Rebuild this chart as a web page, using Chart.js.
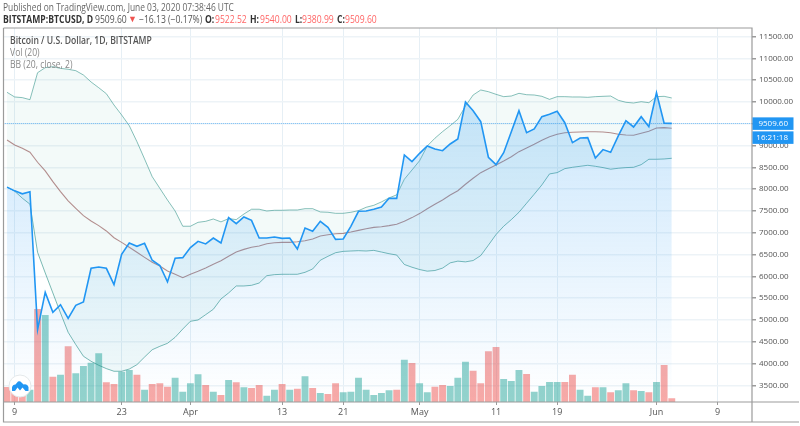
<!DOCTYPE html>
<html>
<head>
<meta charset="utf-8">
<script src="https://cdn.jsdelivr.net/npm/chart.js@4"></script>
<style>
html,body{margin:0;padding:0;background:#fff;width:800px;height:426px;overflow:hidden}
#wrap{position:relative;width:800px;height:426px}
canvas{position:absolute;left:0;top:0}
.t{position:absolute;white-space:nowrap;font-family:"Open Sans",sans-serif;font-size:10px;line-height:12px;color:#555;transform-origin:left center}
.b{font-weight:700;color:#333}
.r{color:#f66}
#logo{position:absolute;left:8px;top:374px}
</style>
</head>
<body>
<div id="wrap">
<canvas id="c" width="800" height="426"></canvas>
<div class="t" style="left:3px;top:1px;color:#666;transform:scaleX(.84)">Published on TradingView.com, June 03, 2020 07:38:46 UTC</div>
<div class="t b" style="left:3px;top:13px;transform:scaleX(.86)">BITSTAMP:BTCUSD, D</div>
<div class="t" style="left:95px;top:13px;transform:scaleX(.86)">9509.60</div>
<div class="t" style="left:128px;top:13px;color:#ef5350;font-size:9px">▼</div>
<div class="t" style="left:139px;top:13px;transform:scaleX(.86)">−16.13 (−0.17%)</div>
<div class="t b" style="left:205px;top:13px;transform:scaleX(.86)">O:</div>
<div class="t r" style="left:215px;top:13px;transform:scaleX(.86)">9522.52</div>
<div class="t b" style="left:250px;top:13px;transform:scaleX(.86)">H:</div>
<div class="t r" style="left:260px;top:13px;transform:scaleX(.86)">9540.00</div>
<div class="t b" style="left:295px;top:13px;transform:scaleX(.86)">L:</div>
<div class="t r" style="left:302px;top:13px;transform:scaleX(.86)">9380.99</div>
<div class="t b" style="left:337px;top:13px;transform:scaleX(.86)">C:</div>
<div class="t r" style="left:345px;top:13px;transform:scaleX(.86)">9509.60</div>
<div class="t" style="left:9.5px;top:34px;color:#555;font-weight:600;transform:scaleX(.86)">Bitcoin / U.S. Dollar, 1D, BITSTAMP</div>
<div class="t" style="left:9.5px;top:46px;color:#888;transform:scaleX(.86)">Vol (20)</div>
<div class="t" style="left:9.5px;top:58px;color:#888;transform:scaleX(.86)">BB (20, close, 2)</div>
<svg id="logo" width="24" height="24" viewBox="0 0 24 24">
<circle cx="12" cy="12" r="11" fill="#fff" stroke="#e4e8ea" stroke-width="1"/>
<path d="M4 17 L4 13.5 Q4.5 10.5 7.5 10.5 L10 7.5 Q12 6.5 13.5 8.5 L15.5 10.5 Q19.5 9.5 20.5 13 L20.5 17 L17.5 17 L14.5 13.5 L12 16.5 L9.5 13.5 L7 17 Z" fill="#2196f3"/>
</svg>
</div>
<script>
const closePrice=[8047,7962,7893,7939,4779,5634,5176,5350,5038,5336,5412,6185,6215,6185,5810,6506,6765,6690,6758,6370,6250,5873,6415,6430,6660,6805,6745,6880,6765,7348,7210,7362,7286,6880,6880,6903,6873,6880,6628,7110,7034,7263,7125,6850,6857,7149,7493,7500,7540,7590,7790,7790,8785,8632,8823,8991,8922,8883,9037,9151,10000,9800,9548,8732,8563,8837,9319,9800,9296,9381,9663,9718,9787,9525,9067,9175,9182,8716,8908,8847,9221,9572,9427,9663,9434,10213,9511,9509.6];
const bbUpper=[10222,10115,10100,10053,10672,10787,10810,10771,10750,10718,10619,10459,10328,10190,9931,9702,9457,9091,8693,8288,8020,7752,7500,7150,7150,7240,7263,7316,7250,7325,7302,7430,7540,7540,7500,7516,7516,7523,7523,7553,7553,7478,7471,7447,7447,7470,7508,7585,7630,7708,7800,7870,8228,8440,8654,8991,9168,9320,9457,9603,9908,10160,10275,10236,10176,10122,10137,10199,10167,10160,10130,10060,10122,10122,10115,10115,10107,10122,10130,10137,10039,9993,9977,10007,9984,10122,10130,10092];
const bbBasis=[9129,9015,8938,8847,8618,8418,8173,7945,7733,7562,7393,7270,7164,7042,6887,6780,6667,6552,6437,6323,6238,6124,6048,5970,6048,6116,6192,6276,6360,6460,6559,6620,6667,6697,6750,6773,6780,6780,6795,6818,6857,6925,6955,6978,6987,7017,7055,7093,7125,7140,7164,7195,7262,7348,7440,7553,7655,7752,7867,7966,8113,8250,8379,8471,8556,8647,8746,8861,8945,9030,9122,9205,9260,9296,9305,9312,9319,9319,9312,9296,9260,9244,9236,9282,9328,9404,9411,9396];
const bbLower=[8047,7954,7794,7656,6552,6080,5620,5160,4717,4435,4168,4053,3961,3885,3824,3824,3875,3975,4150,4318,4396,4465,4602,4792,4970,5000,5122,5245,5482,5620,5780,5780,5795,5848,6016,6040,6048,6048,6048,6093,6170,6370,6460,6543,6574,6582,6590,6582,6597,6559,6520,6490,6273,6210,6157,6120,6135,6190,6310,6350,6333,6363,6478,6716,6960,7150,7302,7470,7678,7885,8098,8350,8380,8471,8502,8525,8548,8525,8495,8458,8480,8495,8502,8563,8686,8686,8693,8709];
const volume=[150,120,100,123,930,870,253,273,557,287,360,393,487,197,180,303,320,273,123,180,187,153,243,103,187,277,170,103,70,220,197,147,140,170,63,123,180,123,133,257,140,90,80,187,97,103,243,123,70,90,117,123,423,390,187,97,153,170,160,243,403,313,187,507,550,230,210,320,280,103,160,200,200,200,273,123,63,147,147,97,117,187,117,110,97,200,370,37];
const volumeFalling=[1,1,1,0,1,0,1,0,1,0,0,0,0,1,1,0,0,1,0,1,1,1,0,0,0,0,1,0,1,0,1,0,1,1,0,0,1,0,1,0,1,0,1,1,0,0,0,0,0,0,0,1,0,1,0,0,1,1,0,0,0,1,1,1,1,0,0,0,1,0,0,0,0,1,1,0,0,1,0,1,0,0,1,0,1,0,1,1];
const monthNames=["Mar","Apr","May","Jun"];
const monthDays=[[8,31],[1,30],[1,31],[1,13]];
const categories=[];
monthDays.forEach((r,m)=>{for(let d=r[0];d<=r[1];d++)categories.push(monthNames[m]+" "+d);});
const tickDays=["Mar 9","Mar 23","Apr 1","Apr 13","Apr 21","May 1","May 11","May 19","Jun 1","Jun 9"];
const tickText=["9","23","Apr","13","21","May","11","19","Jun","9"];
const priceTicks=[3500,4000,4500,5000,5500,6000,6500,7000,7500,8000,8500,9000,9500,10000,10500,11000,11500];
const lastPrice=9509.6;
const lastPriceText="9509.60";
const countdownText="16:21:18";

const areaFill=(ctx)=>{
  const a=ctx.chart.chartArea; if(!a) return 'rgba(33,150,243,.1)';
  const g=ctx.chart.ctx.createLinearGradient(0,92,0,a.bottom);
  g.addColorStop(0,'rgba(33,150,243,.24)');
  g.addColorStop(1,'rgba(33,150,243,0)');
  return g;
};
const framePlugin={id:'frame',
 afterDatasetsDraw(ch){
  const c=ch.ctx,a=ch.chartArea,y=ch.scales.y;
  const py=Math.round(y.getPixelForValue(lastPrice))+.5;
  c.save();
  c.strokeStyle='rgba(33,150,243,.6)';c.lineWidth=1;c.setLineDash([1,1]);
  c.beginPath();c.moveTo(a.left,py);c.lineTo(a.right,py);c.stroke();
  c.setLineDash([]);
  c.strokeStyle='#9b9b9b';c.lineWidth=1.2;
  c.beginPath();
  c.moveTo(3.5,28);c.lineTo(752,28);c.lineTo(752,422);
  c.moveTo(3.5,28);c.lineTo(3.5,422);c.lineTo(799,422);
  c.moveTo(3.5,a.bottom);c.lineTo(799,a.bottom);
  c.stroke();
  c.restore();
 },
 afterDraw(ch){
  const c=ch.ctx,a=ch.chartArea,y=ch.scales.y;
  const py=y.getPixelForValue(lastPrice);
  c.save();
  c.fillStyle='#2196f3';
  c.fillRect(a.right+.5,py-6,41,12.5);
  c.fillRect(a.right+.5,py+8,41,12.5);
  c.fillStyle='#fff';c.textAlign='right';c.textBaseline='middle';
  c.font='8px "Open Sans"';
  c.fillText(lastPriceText,788,py+.5);
  c.fillText(countdownText,788,py+14.5);
  c.restore();
 }};
new Chart(document.getElementById('c'),{
 type:'bar',
 plugins:[framePlugin],
 data:{labels:categories,datasets:[
  {type:'line',label:'Close',data:closePrice,borderColor:'#2196f3',borderWidth:1.6,pointRadius:0,tension:0,fill:'start',backgroundColor:areaFill,order:1,yAxisID:'y'},
  {type:'line',label:'Basis',data:bbBasis,borderColor:'rgba(136,70,70,.6)',borderWidth:1.1,pointRadius:0,tension:0,fill:false,order:2,yAxisID:'y'},
  {type:'line',label:'Upper',data:bbUpper,borderColor:'rgba(38,140,130,.55)',borderWidth:1,pointRadius:0,tension:0,fill:{target:3},backgroundColor:'rgba(38,166,154,.055)',order:3,yAxisID:'y'},
  {type:'line',label:'Lower',data:bbLower,borderColor:'rgba(38,140,130,.6)',borderWidth:1,pointRadius:0,tension:0,fill:false,order:4,yAxisID:'y'},
  {type:'bar',label:'Volume',data:volume,backgroundColor:volumeFalling.map(f=>f?'rgba(239,83,80,.5)':'rgba(38,166,154,.5)'),barPercentage:.9,categoryPercentage:1,order:5,yAxisID:'v'}
 ]},
 options:{
  responsive:false,animation:false,
  layout:{padding:{left:3.2,right:0,top:28,bottom:0}},
  plugins:{legend:{display:false},tooltip:{enabled:false},title:{display:false}},
  scales:{
   x:{type:'category',offset:true,
    afterBuildTicks(s){s.ticks=s.ticks.filter(t=>tickDays.includes(categories[t.value]));},
    afterFit(s){s.height=24;},
    grid:{offset:false,color:'#e6eff5',lineWidth:1,drawTicks:true,tickLength:3,tickColor:'#9b9b9b'},
    border:{display:false},
    ticks:{autoSkip:false,maxRotation:0,minRotation:0,padding:2,color:'#555',font:{family:'"Open Sans"',size:9},
     callback(v){const i=tickDays.indexOf(categories[v]);return i<0?'':tickText[i];}}
   },
   y:{position:'right',min:3119,max:11697,
    afterBuildTicks(s){s.ticks=priceTicks.map(v=>({value:v}));},
    afterFit(s){s.width=48;},
    grid:{color:'#edf3f7',lineWidth:1.5,tickLength:4,tickColor:'#9b9b9b'},
    border:{display:false},
    ticks:{padding:3,color:'#555',font:{family:'"Open Sans"',size:8},
     callback(v){return Number(v).toFixed(2);}}
   },
   v:{display:false,min:0,max:3740}
  }
 }
});
</script>
</body>
</html>
